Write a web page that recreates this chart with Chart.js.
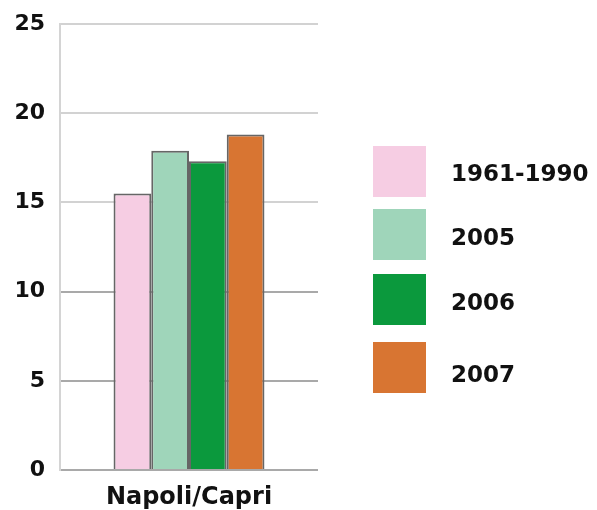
<!DOCTYPE html>
<html>
<head>
<meta charset="utf-8">
<script src="https://cdn.jsdelivr.net/npm/chart.js@4/dist/chart.umd.min.js"></script>
<style>
    html, body { margin: 0; padding: 0; background: #fff; }
    #wrap { width: 597px; height: 510px; }
</style>
</head>
<body>
<div id="wrap"><canvas id="tempChart" width="597" height="510"></canvas></div>
<script>
const categories = ["Napoli/Capri"];
const seriesLabels = ["1961-1990", "2005", "2006", "2007"];
const values1961_1990 = [15.5];
const values2005 = [17.9];
const values2006 = [17.3];
const values2007 = [18.8];
const yTicks = [0, 5, 10, 15, 20, 25];

const seriesColors = ["#f6cde3", "#9fd5ba", "#0b993d", "#d87532"];
const fontFamily = "'DejaVu Sans', sans-serif";

// legend: big square swatches to the right of the plot
const swatchTops = [146, 209, 274, 342];
const labelBaselines = [181, 245, 310, 382];

const sideLegend = {
    id: "sideLegend",
    afterDraw(chart) {
        const ctx = chart.ctx;
        ctx.save();
        chart.data.datasets.forEach((ds, i) => {
            ctx.fillStyle = ds.backgroundColor;
            ctx.fillRect(373, swatchTops[i], 53, 51);
            ctx.fillStyle = "#111";
            ctx.font = "bold 23px " + fontFamily;
            ctx.textBaseline = "alphabetic";
            ctx.textAlign = "left";
            ctx.fillText(ds.label, 451, labelBaselines[i]);
        });
        ctx.restore();
    }
};

const seriesData = [values1961_1990, values2005, values2006, values2007];

new Chart(document.getElementById("tempChart"), {
    type: "bar",
    data: {
        labels: categories,
        datasets: seriesLabels.map((label, i) => ({
            label,
            data: seriesData[i],
            backgroundColor: seriesColors[i],
            borderColor: "#666",
            borderWidth: 2,
            categoryPercentage: 0.585,
            barPercentage: 1.0
        }))
    },
    options: {
        responsive: false,
        animation: false,
        layout: {
            padding: { left: 0, top: 24, right: 279, bottom: 0 }
        },
        plugins: {
            legend: { display: false },
            tooltip: { enabled: false }
        },
        scales: {
            x: {
                grid: { display: false },
                border: { display: false },
                ticks: {
                    color: "#111",
                    padding: 5,
                    font: { family: fontFamily, size: 24, weight: "bold" }
                },
                afterFit(scale) { scale.height = 40; }
            },
            y: {
                min: 0,
                max: 25,
                afterBuildTicks(scale) {
                    scale.ticks = yTicks.map((v) => ({ value: v }));
                },
                grid: {
                    color(ctx) {
                        const v = ctx.tick ? ctx.tick.value : 0;
                        return (v === 5 || v === 10 || v === 0) ? "#a9a9a9" : "#d2d2d2";
                    },
                    lineWidth: 2,
                    drawTicks: false
                },
                border: { display: true, color: "#d4d4d4", width: 2 },
                ticks: {
                    color: "#111",
                    padding: 15,
                    font: { family: fontFamily, size: 22, weight: "bold" }
                },
                afterFit(scale) {
                    scale.width = 60;
                    scale.paddingTop = 0;
                    scale.paddingBottom = 0;
                }
            }
        }
    },
    plugins: [sideLegend]
});
</script>
</body>
</html>
